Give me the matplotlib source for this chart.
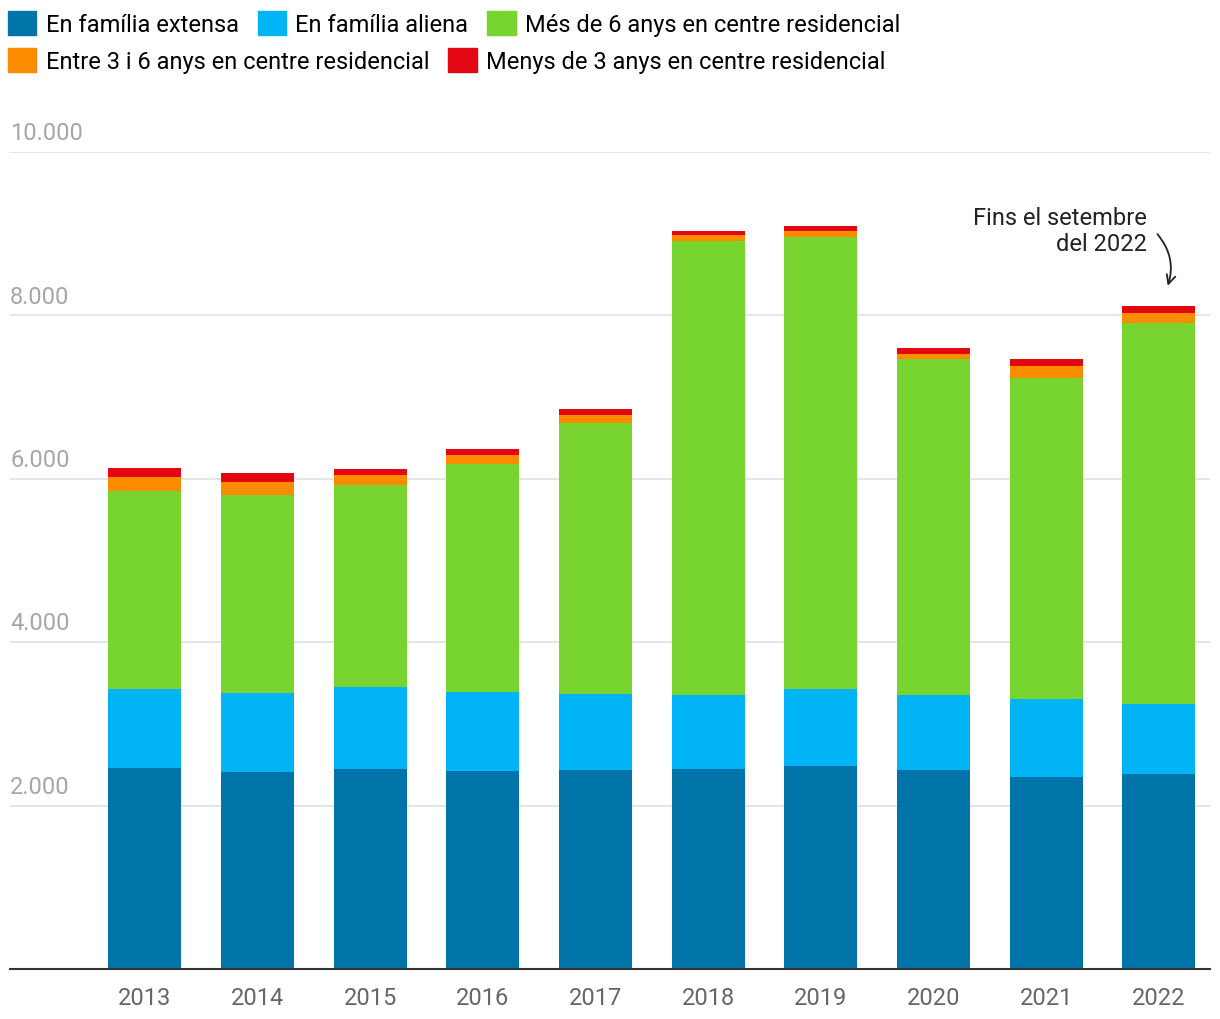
import matplotlib.pyplot as plt
from matplotlib.patches import Patch
import numpy as np

plt.rcParams['font.family'] = ['Roboto', 'DejaVu Sans']

anys = ['2013', '2014', '2015', '2016', '2017', '2018', '2019', '2020', '2021', '2022']
familia_extensa = [2460, 2411, 2448, 2423, 2435, 2448, 2484, 2435, 2350, 2386]
familia_aliena = [967, 971, 1007, 967, 931, 905, 943, 918, 954, 857]
mes_6_anys = [2427, 2423, 2472, 2791, 3320, 5561, 5536, 4117, 3930, 4667]
entre_3_6_anys = [167, 155, 119, 110, 94, 70, 70, 57, 146, 119]
menys_3_anys = [111, 110, 74, 73, 74, 49, 61, 74, 86, 86]

series = [
    ('En família extensa', familia_extensa, '#0074a8'),
    ('En família aliena', familia_aliena, '#00b4f6'),
    ('Més de 6 anys en centre residencial', mes_6_anys, '#78d52f'),
    ('Entre 3 i 6 anys en centre residencial', entre_3_6_anys, '#fb8c00'),
    ('Menys de 3 anys en centre residencial', menys_3_anys, '#e30613'),
]

fig = plt.figure(figsize=(12.2, 10.2), dpi=100)
ax = fig.add_axes([10/1220, 50/1020, 1200/1220, 817/1020])

x = np.arange(len(anys))
base = np.zeros(len(anys))
for nom, vals, col in series:
    ax.bar(x, vals, 0.648, bottom=base, color=col, label=nom, zorder=3)
    base += np.array(vals)

ax.set_xlim(-1.198, 9.453)
ax.set_ylim(0, 10000)
ax.set_xticks(x)
ax.set_xticklabels(anys, fontsize=17, color='#666666')
ax.tick_params(axis='x', length=0, pad=12)
ax.set_yticks([])
for v in [2000, 4000, 6000, 8000, 10000]:
    ax.axhline(v, color='#e3e3e3', lw=1.3, zorder=1)
    ax.text(-1.198, v + 95, f'{v:,}'.replace(',', '.'), fontsize=17,
            color='#a6a6a6', va='bottom', ha='left')
for s in ['top', 'right', 'left']:
    ax.spines[s].set_visible(False)
ax.spines['bottom'].set_color('#333333')
ax.spines['bottom'].set_linewidth(1.5)
ax.spines['bottom'].set_zorder(4)

# Anotació
ax.annotate('', xy=(9.07, 8330), xytext=(8.97, 9020),
            arrowprops=dict(arrowstyle='->', color='#222222', lw=1.3,
                            connectionstyle='arc3,rad=-0.3', mutation_scale=16))
ax.text(8.89, 9040, 'Fins el setembre\ndel 2022', ha='right', va='center',
        fontsize=17, color='#222222', linespacing=1.2)

# Llegenda
handles = [Patch(color=c) for _, _, c in series]
labels = [n for n, _, _ in series]
kw = dict(frameon=False, fontsize=17, handlelength=1.2, handleheight=1.2,
          handletextpad=0.4, columnspacing=0.8, borderaxespad=0, borderpad=0)
fig.legend(handles[:3], labels[:3], ncol=3, loc='upper left',
           bbox_to_anchor=(8/1220, 1 - 12/1020), **kw)
fig.legend(handles[3:], labels[3:], ncol=2, loc='upper left',
           bbox_to_anchor=(8/1220, 1 - 49/1020), **kw)

fig.savefig('out.png', dpi=100)
